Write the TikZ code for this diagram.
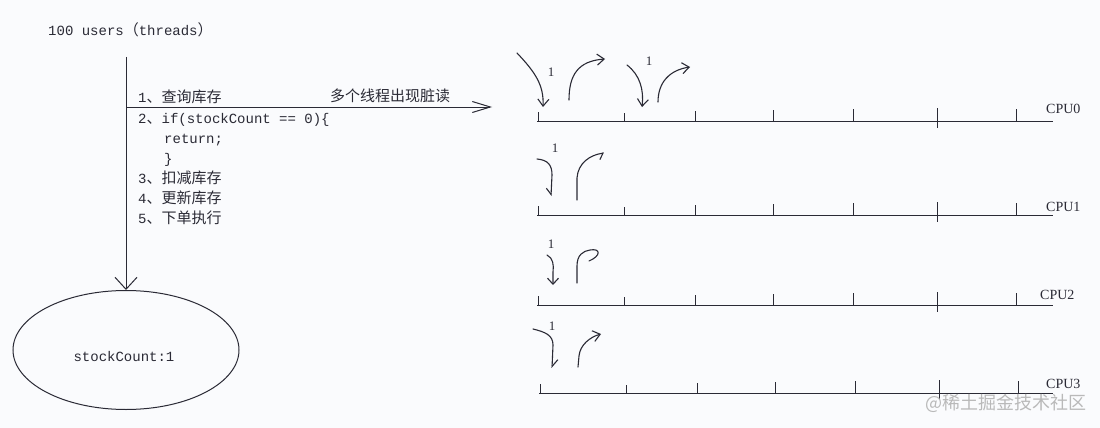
\documentclass[tikz,border=0pt]{standalone}
\usepackage{fontspec}
\setmonofont{Liberation Mono}
\newfontfamily\cjk{Noto Sans CJK SC}
\newfontfamily\cpufont{Liberation Serif}
\usetikzlibrary{arrows.meta,shapes.geometric}
\definecolor{ink}{HTML}{2A2A35}
\definecolor{bg}{HTML}{FAFBFD}
\newcommand\zh[1]{{\cjk\fontsize{15}{16}\selectfont #1}}
\begin{document}
\begin{tikzpicture}[x=1pt,y=-1pt,
  txt/.style={inner sep=0pt, anchor=base west, font=\ttfamily\fontsize{14}{16}\selectfont, text=ink},
  conn/.style={draw=ink, line width=1pt},
  axis/.style={draw=ink, line width=1pt},
  hand/.style={draw=ink, line width=1.1pt, line cap=round},
  barb/.style={-{Straight Barb[length=7pt,width=11pt]}},
  cpu/.style={inner sep=0pt, anchor=west, font=\cpufont\fontsize{14}{16}\selectfont, text=ink},
  one/.style={inner sep=0pt, font=\cpufont\fontsize{13}{15}\selectfont, text=ink}]
\fill[bg] (0,0) rectangle (1100,428);
\useasboundingbox (0,0) rectangle (1100,428);

% left part
\node[txt] (users) at (48,36) {100 users\zh{（}threads\zh{）}};
\node[draw=ink, line width=1pt, ellipse, minimum width=226pt, minimum height=119pt, inner sep=0pt] (store) at (126,350) {};
\node[txt, anchor=center] (cnt) at (124,356) {stockCount:1};
\coordinate (vtop) at (126,57);
\draw[conn, -{Straight Barb[length=12pt,width=22pt]}] (vtop) -- (store.north);
\coordinate (hstart) at (126,107);
\coordinate (hend) at (492,107);
\draw[conn, -{Straight Barb[length=18pt,width=11pt]}] (hstart) -- (hend);

\node[txt] (s1) at (138,102) {1\zh{、查询库存}};
\node[txt] (dirty) at (330,101) {\zh{多个线程出现脏读}};
\node[txt] (s2) at (138,123) {2\zh{、}if(stockCount == 0)\{};
\node[txt] (ret) at (164,143) {return;};
\node[txt] (close) at (164,163) {\}};
\node[txt] (s3) at (138,183) {3\zh{、扣减库存}};
\node[txt] (s4) at (138,203) {4\zh{、更新库存}};
\node[txt] (s5) at (138,223) {5\zh{、下单执行}};

% CPU timelines
\foreach \ly/\lab/\dx/\lx/\ny in {121/CPU0/0/1046/109, 215/CPU1/0/1046/207, 305/CPU2/0/1040/295, 393/CPU3/2/1046/384} {
  \draw[axis] (537+\dx,\ly) -- (1053,\ly);
  \foreach \tx/\up in {538/9,624/8,695/10,773/11,853/12,1016/12}{
    \draw[axis] (\tx+\dx,\ly) -- ++(0,-\up);
  }
  \draw[axis] (937+\dx,\ly-13) -- (937+\dx,\ly+7);
  \node[cpu] (\lab) at (\lx,\ny) {\lab};
}

% CPU0 hand arrows
\draw[hand, barb] (517,53) .. controls (535,72) and (544,85) .. (543,107);
\node[one] (n0a) at (551,72) {1};
\draw[hand, barb] (569,100) .. controls (569,75) and (578,61) .. (605,59);
\draw[hand, barb] (627,65) .. controls (640,75) and (644,90) .. (642,107);
\node[one] (n0b) at (649,61) {1};
\draw[hand, barb] (658,102) .. controls (658,82) and (670,70) .. (690,67);

% CPU1
\node[one] (n1) at (555,148) {1};
\draw[hand, -{Straight Barb[length=6pt,width=10pt,right]}] (537,159) .. controls (548,160) and (552,165) .. (552,175) -- (551,196);
\draw[hand, -{Straight Barb[length=4pt,width=12pt,right]}] (577,200) -- (577,178) .. controls (578,163) and (590,155) .. (604,153);

% CPU2
\node[one] (n2) at (551,244) {1};
\draw[hand, -{Straight Barb[length=6pt,width=11pt]}] (547,255) .. controls (553,258) and (554,265) .. (553,272) -- (553,285);
\draw[hand] (577,283) -- (577,266) .. controls (577,255) and (583,251) .. (590,250) .. controls (601,248) and (601,256) .. (589,261);

% CPU3
\node[one] (n3) at (552,326) {1};
\draw[hand, -{Straight Barb[length=7pt,width=11pt,left]}] (533,329) .. controls (545,332) and (553,335) .. (553,345) -- (552,368);
\draw[hand, barb] (578,367) -- (579,356) .. controls (580,345) and (590,337) .. (601,334);

% watermark
\node[inner sep=0pt, anchor=west, font=\cjk\fontsize{18}{20}\selectfont, text=gray!55] (wm) at (925,403) {@稀土掘金技术社区};
\end{tikzpicture}
\end{document}
